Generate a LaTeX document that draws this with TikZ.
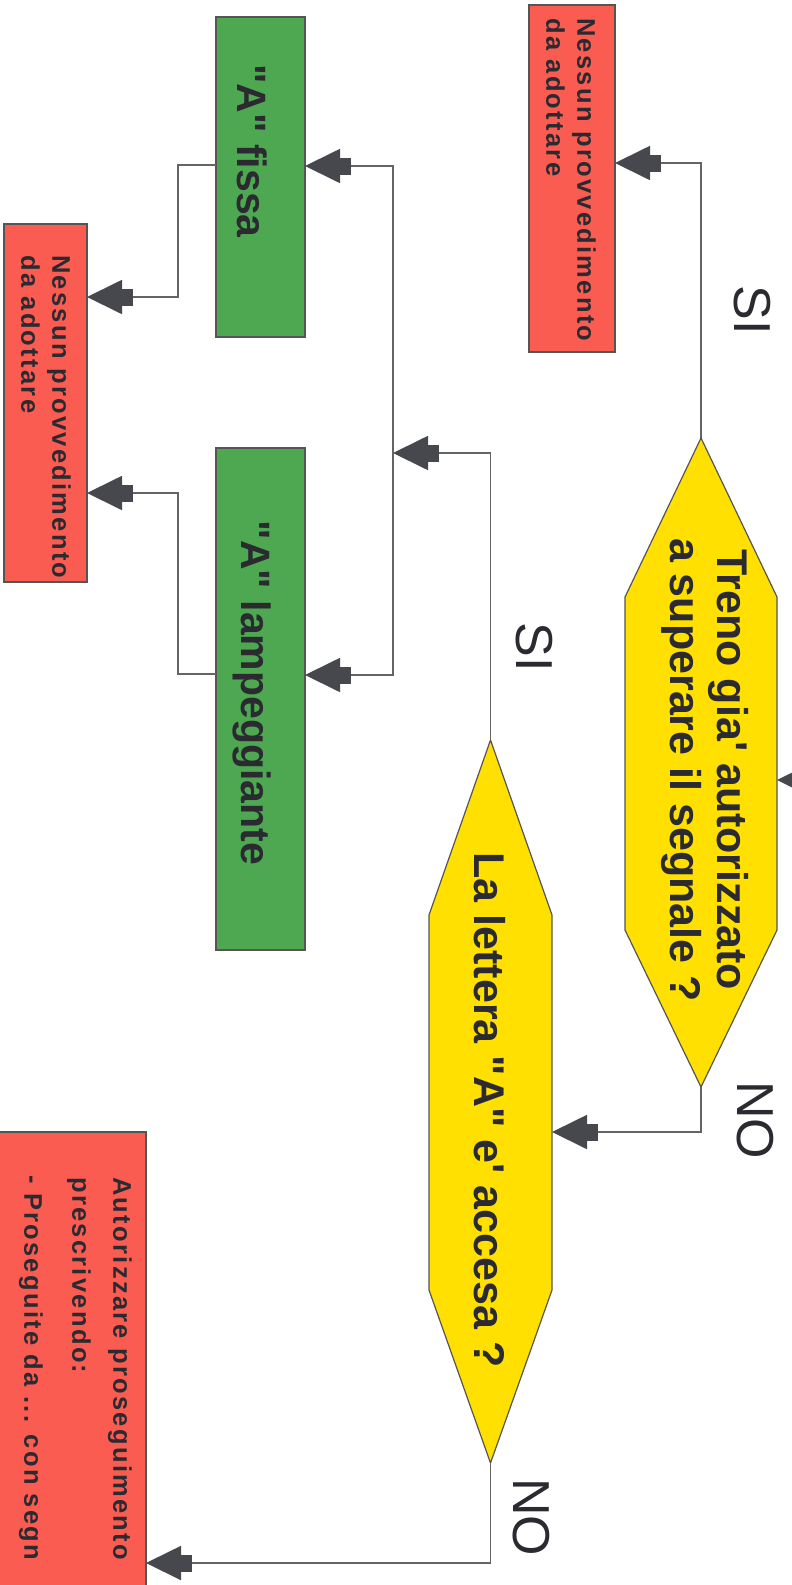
\documentclass[tikz,border=0pt]{standalone}
\usepackage{fontspec}
\newfontfamily\basefam{Liberation Sans}
\newfontfamily\rdfam[LetterSpace=9]{Liberation Sans}
\usetikzlibrary{arrows.meta,calc}
\definecolor{redbox}{RGB}{250,92,82}
\definecolor{greenbox}{RGB}{78,168,82}
\definecolor{yellowbox}{RGB}{255,224,0}
\definecolor{txtc}{RGB}{42,42,48}
\definecolor{linec}{RGB}{100,100,100}
\definecolor{arrc}{RGB}{70,72,78}
\definecolor{edgec}{RGB}{85,85,85}
\newcommand\diafont{\basefam\fontsize{43}{47}\selectfont\bfseries}
\newcommand\grnfont{\basefam\fontsize{41}{45}\selectfont\bfseries}
\newcommand\rdtxtfont{\rdfam\fontsize{25.5}{31}\selectfont\bfseries}
\newcommand\lblfont{\basefam\fontsize{52}{52}\selectfont}
\begin{document}
\begin{tikzpicture}[x=1pt,y=-1pt,
  box/.style={draw=edgec, line width=1.2pt, inner sep=0pt, outer sep=0pt},
  redb/.style={box, fill=redbox},
  greenb/.style={box, fill=greenbox},
  hexa/.style={fill=yellowbox, draw=edgec, line width=1.2pt},
  anchorbox/.style={inner sep=0pt, outer sep=0pt},
  rtext/.style={rotate=-90, inner sep=0pt, text=txtc},
  lbl/.style={rotate=-90, inner sep=0pt, text=txtc, font=\lblfont},
  conn/.style={draw=linec, line width=1.8pt,
    -{Rectangle[length=11pt,width=17pt,color=arrc]Triangle[length=35pt,width=34pt,color=arrc]}}
]
\useasboundingbox (0,0) rectangle (792,1585);
\clip (0,0) rectangle (792,1585);

% boxes
\node[redb, minimum width=86pt, minimum height=347pt] (red1) at (572,178.5) {};
\node[redb, minimum width=83pt, minimum height=358pt] (red2) at (45.5,403) {};
\node[redb, minimum width=156pt, minimum height=488pt] (red3) at (68,1376) {};
\node[greenb, minimum width=89pt, minimum height=320pt] (fissa) at (260.5,177) {};
\node[greenb, minimum width=89pt, minimum height=502pt] (lamp) at (260.5,699) {};

% decision shapes
\node[anchorbox, minimum width=152pt, minimum height=649pt] (d1) at (701,762.5) {};
\node[anchorbox, minimum width=123pt, minimum height=723pt] (d2) at (490.5,1101.5) {};
\path[hexa] (d1.north) -- ($(d1.north east)+(0,159)$) -- ($(d1.south east)+(0,-157)$)
  -- (d1.south) -- ($(d1.south west)+(0,-157)$) -- ($(d1.north west)+(0,159)$) -- cycle;
\path[hexa] (d2.north) -- ($(d2.north east)+(0,175)$) -- ($(d2.south east)+(0,-173)$)
  -- (d2.south) -- ($(d2.south west)+(0,-173)$) -- ($(d2.north west)+(0,175)$) -- cycle;

% texts
\node[rtext, font=\diafont, align=center] (d1t) at (705,770) {Treno gia' autorizzato\\a superare il segnale ?};
\node[rtext, font=\diafont] (d2t) at (490,1110) {La lettera "A" e' accesa ?};
\node[rtext, font=\grnfont] (gft) at (252,151) {"A" fissa};
\node[rtext, font=\grnfont] (glt) at (252,693) {"A" lampeggiante};
\node[rtext, font=\rdtxtfont, align=left, anchor=west] (r1t) at (571,18) {Nessun provvedimento\\da adottare};
\node[rtext, font=\rdtxtfont, align=left, anchor=west] (r2t) at (46,255) {Nessun provvedimento\\da adottare};
\node[rtext, font=\rdtxtfont, anchor=west] (r3a) at (120,1177) {Autorizzare proseguimento};
\node[rtext, font=\rdtxtfont, anchor=west] (r3b) at (79,1177) {prescrivendo:};
\node[rtext, font=\rdtxtfont, anchor=west] (r3c) at (31,1175) {- Proseguite da ... con segn};

\node[lbl] (si1) at (752,310) {SI};
\node[lbl] (si2) at (534,647) {SI};
\node[lbl] (no1) at (755,1120) {NO};
\node[lbl] (no2) at (531,1517) {NO};

% helper coordinates
\coordinate (ya) at (0,163);
\coordinate (j) at (393,453);
\coordinate (yb) at (0,166);
\coordinate (yc) at (0,675);
\coordinate (yd) at (0,165);
\coordinate (ye) at (0,297);
\coordinate (yf) at (0,674);
\coordinate (yg) at (0,493);
\coordinate (yh) at (0,1132);
\coordinate (yi) at (0,1563);
\coordinate (in1) at (850,780);

% connectors
\draw[conn] (d1.north) |- (red1.east |- ya);
\draw[conn] (d2.north) |- (j);
\draw[conn] (j) |- (fissa.east |- yb);
\draw[conn] (j) |- (lamp.east |- yc);
\draw[conn] (fissa.west |- yd) -- ++(-38,0) |- (red2.east |- ye);
\draw[conn] (lamp.west |- yf) -- ++(-38,0) |- (red2.east |- yg);
\draw[conn] (d1.south) |- (d2.east |- yh);
\draw[conn] (d2.south) |- (red3.east |- yi);
\draw[conn] (in1) -- (in1 -| d1.east);
\end{tikzpicture}
\end{document}
